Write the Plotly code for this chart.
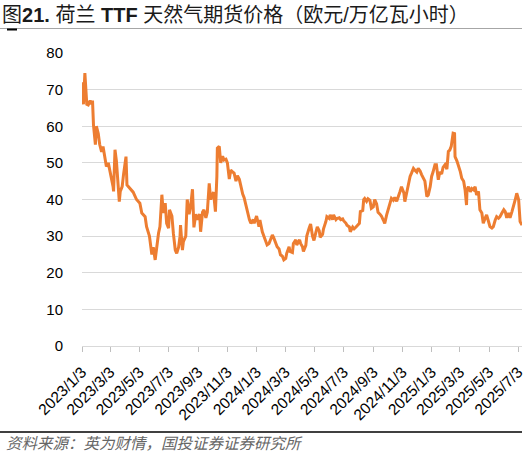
import plotly.graph_objects as go

# 荷兰 TTF 天然气期货价格（欧元/万亿瓦小时），读自原图
dates = [
    '2023-01-03', '2023-01-06', '2023-01-09', '2023-01-13', '2023-01-16', '2023-01-20', '2023-01-23',
    '2023-01-25', '2023-01-27', '2023-01-30', '2023-01-31', '2023-02-02', '2023-02-06', '2023-02-09',
    '2023-02-13', '2023-02-16', '2023-02-20', '2023-02-23', '2023-02-27', '2023-03-02', '2023-03-06',
    '2023-03-09', '2023-03-10', '2023-03-13', '2023-03-16', '2023-03-20', '2023-03-22', '2023-03-24',
    '2023-03-28', '2023-03-31', '2023-04-05', '2023-04-07', '2023-04-13', '2023-04-20', '2023-04-27',
    '2023-05-04', '2023-05-08', '2023-05-15', '2023-05-18', '2023-05-24', '2023-05-29', '2023-06-01',
    '2023-06-05', '2023-06-08', '2023-06-12', '2023-06-15', '2023-06-19', '2023-06-22', '2023-06-26',
    '2023-06-29', '2023-07-03', '2023-07-05', '2023-07-10', '2023-07-13', '2023-07-17', '2023-07-20',
    '2023-07-24', '2023-07-27', '2023-07-28', '2023-08-01', '2023-08-03', '2023-08-08', '2023-08-11',
    '2023-08-15', '2023-08-18', '2023-08-22', '2023-08-25', '2023-08-29', '2023-09-01', '2023-09-06',
    '2023-09-08', '2023-09-12', '2023-09-15', '2023-09-19', '2023-09-22', '2023-09-26', '2023-09-29',
    '2023-10-05', '2023-10-09', '2023-10-12', '2023-10-13', '2023-10-17', '2023-10-20', '2023-10-24',
    '2023-10-27', '2023-10-31', '2023-11-03', '2023-11-07', '2023-11-10', '2023-11-14', '2023-11-17',
    '2023-11-21', '2023-11-24', '2023-11-28', '2023-12-01', '2023-12-05', '2023-12-08', '2023-12-12',
    '2023-12-15', '2023-12-19', '2023-12-22', '2023-12-27', '2023-12-29', '2024-01-03', '2024-01-08',
    '2024-01-10', '2024-01-15', '2024-01-17', '2024-01-22', '2024-01-25', '2024-01-29', '2024-02-01',
    '2024-02-05', '2024-02-08', '2024-02-12', '2024-02-15', '2024-02-19', '2024-02-22', '2024-02-26',
    '2024-02-29', '2024-03-04', '2024-03-06', '2024-03-11', '2024-03-13', '2024-03-18', '2024-03-20',
    '2024-03-25', '2024-03-27', '2024-04-02', '2024-04-04', '2024-04-08', '2024-04-10', '2024-04-15',
    '2024-04-17', '2024-04-22', '2024-04-25', '2024-04-29', '2024-05-02', '2024-05-06', '2024-05-09',
    '2024-05-13', '2024-05-15', '2024-05-20', '2024-05-22', '2024-05-27', '2024-05-29', '2024-06-03',
    '2024-06-05', '2024-06-10', '2024-06-12', '2024-06-17', '2024-06-19', '2024-06-24', '2024-06-27',
    '2024-07-01', '2024-07-03', '2024-07-08', '2024-07-10', '2024-07-15', '2024-07-17', '2024-07-22',
    '2024-07-25', '2024-07-29', '2024-08-01', '2024-08-05', '2024-08-07', '2024-08-12', '2024-08-14',
    '2024-08-16', '2024-08-20', '2024-08-23', '2024-08-27', '2024-08-30', '2024-09-03', '2024-09-06',
    '2024-09-10', '2024-09-13', '2024-09-17', '2024-09-20', '2024-09-24', '2024-09-27', '2024-10-01',
    '2024-10-04', '2024-10-08', '2024-10-11', '2024-10-15', '2024-10-18', '2024-10-22', '2024-10-25',
    '2024-10-29', '2024-11-01', '2024-11-06', '2024-11-08', '2024-11-12', '2024-11-15', '2024-11-19',
    '2024-11-22', '2024-11-26', '2024-11-29', '2024-12-03', '2024-12-06', '2024-12-10', '2024-12-13',
    '2024-12-17', '2024-12-20', '2024-12-24', '2024-12-27', '2024-12-31', '2025-01-03', '2025-01-06',
    '2025-01-10', '2025-01-13', '2025-01-17', '2025-01-20', '2025-01-24', '2025-01-27', '2025-01-31',
    '2025-02-04', '2025-02-07', '2025-02-10', '2025-02-13', '2025-02-17', '2025-02-20', '2025-02-21',
    '2025-02-25', '2025-03-04', '2025-03-07', '2025-03-11', '2025-03-14', '2025-03-17', '2025-03-18',
    '2025-03-21', '2025-03-25', '2025-03-28', '2025-04-01', '2025-04-04', '2025-04-07', '2025-04-11',
    '2025-04-14', '2025-04-18', '2025-04-21', '2025-04-25', '2025-04-28', '2025-05-02', '2025-05-05',
    '2025-05-09', '2025-05-12', '2025-05-16', '2025-05-19', '2025-05-23', '2025-05-26', '2025-05-30',
    '2025-06-03', '2025-06-06', '2025-06-09', '2025-06-13', '2025-06-16', '2025-06-20', '2025-06-23',
    '2025-06-27', '2025-06-30', '2025-07-04', '2025-07-07', '2025-07-11',
]
prices = [
    72.0, 66.0, 74.5, 66.0, 65.8, 67.0, 66.0,
    67.0, 60.4, 57.0, 55.0, 60.0, 58.0, 55.0,
    53.0, 54.5, 50.8, 49.0, 50.0, 48.0, 46.3,
    43.5, 42.2, 53.6, 50.5, 44.5, 39.4, 42.2,
    43.5, 47.0, 51.7, 44.0, 43.0, 42.0, 40.0,
    39.0, 36.3, 35.3, 32.6, 30.0, 25.0, 27.0,
    23.5, 27.0, 30.8, 32.6, 41.3, 36.3, 39.0,
    33.5, 32.2, 37.2, 35.5, 30.8, 26.2, 25.3,
    27.0, 30.0, 33.0, 26.2, 28.5, 30.0, 40.0,
    36.0, 38.0, 42.8, 32.4, 36.0, 34.5, 36.0,
    31.2, 36.5, 37.2, 35.0, 36.5, 44.4, 40.0,
    42.0, 36.7, 46.3, 54.0, 54.5, 50.0, 51.8,
    50.8, 51.0, 50.0, 45.6, 48.0, 47.5, 47.2,
    45.0, 46.5, 45.5, 43.5, 41.5, 40.5, 38.0,
    36.0, 34.5, 33.5, 34.5, 33.5, 35.5, 32.6,
    34.4, 31.2, 30.5, 29.0, 27.6, 28.0, 29.0,
    30.3, 29.5, 28.3, 27.1, 26.5, 24.9, 24.5,
    23.5, 23.9, 25.3, 27.1, 25.8, 25.5, 28.0,
    29.0, 27.6, 29.0, 28.0, 27.1, 25.8, 27.5,
    30.0, 32.2, 33.3, 30.0, 28.8, 31.0, 32.5,
    31.5, 29.7, 30.5, 32.0, 34.0, 35.3, 34.8,
    35.8, 34.5, 35.8, 34.5, 34.8, 35.0, 34.5,
    34.7, 34.2, 33.5, 33.0, 32.5, 31.2, 32.5,
    32.0, 32.5, 33.0, 33.5, 36.7, 37.0, 40.0,
    40.3, 39.5, 40.2, 39.8, 37.6, 38.0, 40.0,
    38.8, 36.5, 36.0, 35.5, 34.4, 33.5, 35.8,
    37.2, 38.5, 40.3, 39.8, 40.6, 39.5, 40.5,
    42.2, 43.5, 41.8, 39.4, 42.0, 44.0, 46.3,
    47.2, 48.5, 48.0, 47.5, 48.5, 47.8, 46.8,
    45.5, 45.0, 40.8, 41.2, 43.5, 46.3, 47.5,
    49.5, 49.5, 45.4, 47.5, 47.0, 48.8, 49.5,
    48.3, 53.1, 53.5, 54.5, 58.1, 58.0, 51.7,
    50.5, 47.6, 45.8, 45.0, 42.6, 38.5, 42.6,
    43.5, 42.1, 43.0, 42.6, 43.5, 41.2, 42.2,
    37.2, 36.3, 33.5, 34.9, 35.8, 34.0, 32.6,
    32.2, 32.6, 34.4, 35.3, 34.9, 35.3, 36.3,
    37.2, 36.7, 35.0, 36.3, 35.0, 36.7, 38.5,
    40.0, 41.7, 39.9, 34.0, 33.0,
]

tick_dates = ['2023-01-03', '2023-03-03', '2023-05-03', '2023-07-03', '2023-09-03', '2023-11-03',
              '2024-01-03', '2024-03-03', '2024-05-03', '2024-07-03', '2024-09-03', '2024-11-03',
              '2025-01-03', '2025-03-03', '2025-05-03', '2025-07-03']
tick_labels = ['2023/1/3', '2023/3/3', '2023/5/3', '2023/7/3', '2023/9/3', '2023/11/3',
               '2024/1/3', '2024/3/3', '2024/5/3', '2024/7/3', '2024/9/3', '2024/11/3',
               '2025/1/3', '2025/3/3', '2025/5/3', '2025/7/3']

FONT = 'Liberation Sans, Arial, Noto Sans CJK SC, sans-serif'

fig = go.Figure()
fig.add_trace(go.Scatter(
    x=dates, y=prices, mode='lines',
    line=dict(color='#ED7D31', width=3),
    showlegend=False,
))

# 页面尺寸与绘图区（像素）
W, H = 528, 457
L, R, T, B = 82, 6, 53, 111
ph = H - T - B
pw = W - L - R

def py(y):  # 像素 y -> paper
    return (H - B - y) / ph

def px(x):  # 像素 x -> paper
    return (x - L) / pw

fig.update_layout(
    width=W, height=H,
    margin=dict(l=L, r=R, t=T, b=B, autoexpand=False),
    plot_bgcolor='white', paper_bgcolor='white',
    font=dict(family=FONT, color='#000000'),
    title=dict(
        text='图<b>21.</b> 荷兰 <b>TTF</b> 天然气期货价格（欧元/万亿瓦小时）',
        x=0.004, xref='container', xanchor='left',
        y=1 - 15 / H, yref='container', yanchor='middle',
        font=dict(size=20, color='#1a1a1a', family='Liberation Sans, Noto Sans CJK SC'),
    ),
    xaxis=dict(
        type='date',
        range=['2023-01-03', '2025-07-11'],
        tickvals=tick_dates, ticktext=tick_labels,
        tickangle=-45, tickfont=dict(size=15.5), ticklabelstandoff=5,
        ticks='outside', ticklen=5, tickcolor='#BFBFBF', tickwidth=1,
        showgrid=False, showline=True, linecolor='#D9D9D9', linewidth=1,
        zeroline=False,
    ),
    yaxis=dict(
        range=[0, 80], tickvals=[0, 10, 20, 30, 40, 50, 60, 70, 80],
        tickfont=dict(size=15), ticklabelstandoff=18,
        showgrid=True, gridcolor='#D9D9D9', gridwidth=1,
        zeroline=False, showline=False, ticks='',
    ),
    shapes=[
        # 标题下划线
        dict(type='line', xref='paper', yref='paper', x0=px(0), x1=px(522), y0=py(28.5), y1=py(28.5),
             line=dict(color='#A6A6A6', width=1)),
        dict(type='line', xref='paper', yref='paper', x0=px(7), x1=px(17), y0=py(29.5), y1=py(29.5),
             line=dict(color='#000000', width=2)),
        # 底部分隔线
        dict(type='line', xref='paper', yref='paper', x0=px(0), x1=px(522), y0=py(432), y1=py(432),
             line=dict(color='#000000', width=1.5)),
    ],
    annotations=[
        dict(text='<i>资料来源：英为财情，国投证券证券研究所</i>', xref='paper', yref='paper',
             x=px(4), y=py(442), xanchor='left', yanchor='middle', showarrow=False,
             font=dict(size=15.5, color='#666666', family='Noto Sans CJK SC')),
    ],
)

# 去掉页面默认边距，使图表贴齐窗口左上角
fig.write_html('out.html', config={'displayModeBar': False},
               post_script="document.body.style.margin='0px';")
